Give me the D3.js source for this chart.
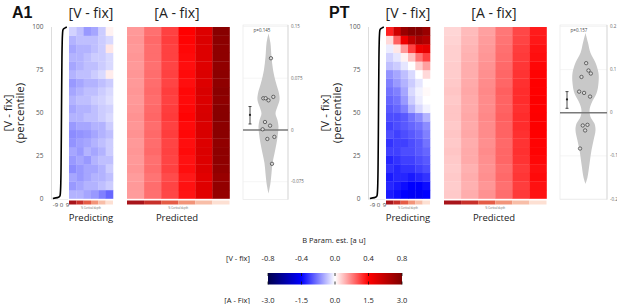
<!DOCTYPE html>
<html lang="en">
<head>
<meta charset="UTF-8"/>
<title>V-fix / A-fix percentile maps</title>
<script src="https://d3js.org/d3.v7.min.js"></script>
<style>
	body{ margin:0; background:#fff; }
	text{ font-family:"Open Sans", "DejaVu Sans", sans-serif; }
</style>
</head>
<body>
<script>
// ---- data ----
var columns = [1, 2, 3, 4, 5, 6];            // cortical depth bins
var percentileTicks = [0, 25, 50, 75, 100];
var curveTicks = [-9, 0, 9];

// percentile -> [V - fix] value (the black CDF curve)
var cdfPercentiles = [0, 0.5, 1, 2, 5, 10, 25, 50, 75, 90, 95, 98, 99, 99.5, 100];
var cdfValues      = [-13, -6, -3.5, -2, -1.4, -1, -0.5, 0, 0.5, 1, 1.4, 2, 3.5, 5.5, 8];

// rows: 5% percentile bins, bottom (0-5%) first
var a1VFix = [
	[-0.12,-0.12,-0.14,-0.16,-0.20,-0.24],
	[-0.16,-0.14,-0.12,-0.12,-0.10,-0.08],
	[-0.14,-0.16,-0.14,-0.12,-0.12,-0.10],
	[-0.18,-0.16,-0.14,-0.14,-0.12,-0.08],
	[-0.16,-0.14,-0.16,-0.12,-0.10,-0.10],
	[-0.14,-0.16,-0.12,-0.14,-0.12,-0.08],
	[-0.17,-0.15,-0.14,-0.12,-0.10,-0.08],
	[-0.18,-0.17,-0.16,-0.14,-0.12,-0.10],
	[-0.16,-0.14,-0.14,-0.12,-0.12,-0.08],
	[-0.12,-0.12,-0.10,-0.10,-0.08,-0.06],
	[-0.14,-0.12,-0.12,-0.10,-0.08,-0.07],
	[-0.12,-0.10,-0.10,-0.08,-0.07,-0.05],
	[-0.14,-0.12,-0.10,-0.10,-0.08,-0.06],
	[-0.16,-0.14,-0.12,-0.12,-0.10,-0.08],
	[-0.12,-0.10,-0.10,-0.08,-0.06, 0.03],
	[-0.14,-0.12,-0.10,-0.10,-0.08,-0.06],
	[-0.12,-0.12,-0.10,-0.08,-0.08,-0.06],
	[-0.14,-0.12,-0.12,-0.10,-0.08, 0.04],
	[-0.12,-0.10,-0.10,-0.10,-0.08,-0.06],
	[-0.07,-0.10,-0.16,-0.14,-0.08, 0.02]
];
var a1AFix = [
	[0.58,0.84,1.08,1.38,1.85,2.75],
	[0.60,0.86,1.10,1.40,1.88,2.78],
	[0.58,0.82,1.06,1.36,1.84,2.72],
	[0.62,0.86,1.12,1.42,1.90,2.80],
	[0.60,0.84,1.10,1.40,1.90,2.82],
	[0.62,0.88,1.12,1.44,1.92,2.84],
	[0.60,0.86,1.10,1.42,1.90,2.80],
	[0.64,0.88,1.14,1.46,1.96,2.88],
	[0.62,0.86,1.12,1.44,1.94,2.86],
	[0.64,0.90,1.16,1.48,1.98,2.92],
	[0.62,0.88,1.14,1.46,1.96,2.90],
	[0.60,0.86,1.12,1.44,1.92,2.84],
	[0.62,0.88,1.14,1.46,1.96,2.88],
	[0.60,0.86,1.10,1.42,1.90,2.82],
	[0.62,0.86,1.12,1.44,1.92,2.86],
	[0.60,0.84,1.10,1.42,1.88,2.80],
	[0.62,0.86,1.12,1.44,1.90,2.84],
	[0.60,0.86,1.12,1.46,1.90,2.84],
	[0.62,0.88,1.14,1.48,1.92,2.86],
	[0.60,0.84,1.12,1.50,1.90,2.90]
];
var ptVFix = [
	[-0.36,-0.38,-0.40,-0.42,-0.42,-0.40],
	[-0.34,-0.36,-0.38,-0.40,-0.40,-0.38],
	[-0.36,-0.34,-0.34,-0.36,-0.34,-0.32],
	[-0.32,-0.34,-0.32,-0.32,-0.30,-0.28],
	[-0.34,-0.32,-0.30,-0.30,-0.28,-0.26],
	[-0.30,-0.30,-0.28,-0.28,-0.26,-0.24],
	[-0.32,-0.30,-0.30,-0.28,-0.26,-0.22],
	[-0.28,-0.30,-0.28,-0.26,-0.24,-0.20],
	[-0.30,-0.28,-0.26,-0.24,-0.22,-0.18],
	[-0.28,-0.28,-0.26,-0.22,-0.18,-0.12],
	[-0.26,-0.24,-0.20,-0.12,-0.06,-0.02],
	[-0.24,-0.22,-0.16,-0.08,-0.03, 0.00],
	[-0.22,-0.20,-0.14,-0.06,-0.02, 0.01],
	[-0.20,-0.16,-0.12,-0.08,-0.04, 0.00],
	[-0.17,-0.14,-0.10,-0.06, 0.00, 0.06],
	[-0.10,-0.08,-0.04, 0.00, 0.08, 0.15],
	[-0.07,-0.04, 0.02, 0.10, 0.22, 0.30],
	[-0.03, 0.04, 0.16, 0.30, 0.45, 0.48],
	[ 0.06, 0.25, 0.45, 0.60, 0.68, 0.64],
	[ 0.35, 0.55, 0.72, 0.78, 0.78, 0.72]
];
var ptAFix = [
	[0.32,0.48,0.64,0.86,1.16,1.40],
	[0.30,0.46,0.62,0.84,1.14,1.40],
	[0.32,0.48,0.66,0.88,1.18,1.44],
	[0.30,0.46,0.64,0.86,1.16,1.42],
	[0.32,0.50,0.66,0.90,1.20,1.46],
	[0.34,0.50,0.68,0.90,1.22,1.48],
	[0.32,0.48,0.66,0.88,1.20,1.48],
	[0.34,0.52,0.68,0.92,1.22,1.50],
	[0.32,0.50,0.68,0.92,1.24,1.52],
	[0.34,0.52,0.70,0.94,1.24,1.52],
	[0.34,0.50,0.68,0.92,1.22,1.50],
	[0.32,0.50,0.68,0.92,1.24,1.52],
	[0.34,0.52,0.70,0.94,1.24,1.50],
	[0.32,0.50,0.68,0.90,1.22,1.50],
	[0.30,0.48,0.66,0.90,1.20,1.48],
	[0.30,0.48,0.64,0.88,1.18,1.46],
	[0.28,0.46,0.62,0.86,1.16,1.42],
	[0.28,0.44,0.60,0.84,1.14,1.40],
	[0.26,0.42,0.58,0.82,1.10,1.36],
	[0.24,0.40,0.56,0.80,1.08,1.34]
];

// violin outlines: [value, relative half-width]
var a1Violin = [[0.140,0],[0.126,0.15],[0.106,0.23],[0.087,0.35],[0.068,0.58],[0.053,0.81],[0.044,0.85],
	[0.034,0.69],[0.024,0.54],[0.0145,0.69],[0.005,0.77],[-0.005,0.73],[-0.019,0.62],[-0.034,0.46],
	[-0.048,0.31],[-0.063,0.23],[-0.077,0.15],[-0.092,0]];
var ptViolin = [[0.185,0],[0.163,0.19],[0.139,0.38],[0.116,0.77],[0.092,1.0],[0.069,1.0],[0.045,0.85],
	[0.022,0.46],[0.006,0.31],[-0.009,0.38],[-0.025,0.69],[-0.040,0.77],[-0.064,0.62],[-0.087,0.46],
	[-0.118,0.31],[-0.150,0.15],[-0.165,0]];

// subject points (value) and their horizontal jitter (relative)
var a1Points = [0.104,0.046,0.046,0.043,0.048,0.0116,0.0063,0.001,-0.013,-0.010,-0.049];
var a1Jitter = [0.19,-0.40,-0.22,0,0.37,-0.27,0.12,-0.45,-0.09,0.45,0.27];
var ptPoints = [0.115,0.098,0.091,0.083,0.049,0.046,0.0375,-0.0295,-0.028,-0.041,-0.083];
var ptJitter = [0.05,0.23,0.41,-0.31,-0.49,-0.11,0.35,-0.21,0.15,-0.03,-0.42];

// mean, lower, upper
var a1Mean = [0.0218, 0.0087, 0.034];
var ptMean = [0.031, 0.0103, 0.049];

var a1Ticks = [0.15, 0.075, 0, -0.075];
var a1TickLabels = ["0.15", "0.075", "0", "-0.075"];
var ptTicks = [0.2, 0.1, 0, -0.1, -0.2];
var ptTickLabels = ["0.2", "0.1", "0", "-0.1", "-0.2"];

var vFixTicks = [-0.8, -0.4, 0, 0.4, 0.8];
var vFixTickLabels = ["-0.8", "-0.4", "0.0", "0.4", "0.8"];
var aFixTickLabels = ["-3.0", "-1.5", "0.0", "1.5", "3.0"];

// ---- styles ----
var depthColors = ["#a8141a", "#c8302a", "#e55c46", "#f29479", "#f8bea8", "#fde0d3"];
var seismic = ["rgb(0,0,77)", "rgb(0,0,255)", "#ffffff", "rgb(255,0,0)", "rgb(128,0,0)"];

var W = 617, H = 304;
var svg = d3.select("body").append("svg").attr("width", W).attr("height", H);

var top0 = 27, bot0 = 198.5;
var pct = d3.scaleLinear().domain([0, 100]).range([bot0, top0]);

function colorFor(maxV){
	return d3.scaleLinear().domain([-maxV, -maxV/2, 0, maxV/2, maxV]).range(seismic).clamp(true);
}

function heatmap(g, x0, x1, rows, maxV){
	var color = colorFor(maxV);
	var x = d3.scaleBand().domain(columns).range([x0, x1]);
	var y = d3.scaleBand().domain(d3.range(rows.length)).range([bot0, top0]);
	rows.forEach(function(row, i){
		g.selectAll(null).data(row).enter().append("rect")
			.attr("x", function(d, j){ return x(columns[j]); })
			.attr("y", y(i))
			.attr("width", x.bandwidth() + 0.3)
			.attr("height", y.bandwidth() + 0.3)
			.attr("fill", function(d){ return color(d); });
	});
	// cortical depth strip
	g.selectAll(null).data(columns).enter().append("rect")
		.attr("x", function(d){ return x(d); })
		.attr("y", 200.5)
		.attr("width", x.bandwidth())
		.attr("height", 4)
		.attr("fill", function(d, i){ return depthColors[i]; });
	g.append("text").attr("x", (x0 + x1) / 2).attr("y", 208.5)
		.attr("text-anchor", "middle").attr("font-size", 2.6).attr("fill", "#666")
		.text("% Cortical depth");
}

function violin(g, left, right, yDom, ticks, tickLabels, outline, pts, jit, mean, pLabel){
	var y = d3.scaleLinear().domain(yDom).range([bot0 + 0.5, top0 - 0.5]);
	var cx = left + 25.5;
	var w = d3.scaleLinear().domain([0, 1]).range([0, 13]);

	g.append("rect").attr("x", left).attr("y", top0 - 2).attr("width", right - left)
		.attr("height", bot0 - top0 + 3).attr("fill", "none").attr("stroke", "#e4e4e4").attr("stroke-width", 0.6);
	g.selectAll(null).data(ticks).enter().append("line")
		.attr("x1", left).attr("x2", right)
		.attr("y1", function(d){ return y(d); }).attr("y2", function(d){ return y(d); })
		.attr("stroke", "#efefef").attr("stroke-width", 0.6);
	g.append("line").attr("x1", right).attr("x2", right).attr("y1", top0 - 2).attr("y2", bot0 + 1)
		.attr("stroke", "#cfcfcf").attr("stroke-width", 0.7);
	g.selectAll(null).data(ticks).enter().append("text")
		.attr("x", right + 3).attr("y", function(d){ return y(d) + 1.5; })
		.attr("font-size", 4.5).attr("fill", "#666")
		.text(function(d, i){ return tickLabels[i]; });

	var area = d3.area()
		.y(function(d){ return y(d[0]); })
		.x0(function(d){ return cx - w(d[1]); })
		.x1(function(d){ return cx + w(d[1]); })
		.curve(d3.curveCatmullRom);
	g.append("path").datum(outline).attr("d", area).attr("fill", "#c8c8c8");

	g.append("line").attr("x1", left).attr("x2", right).attr("y1", y(0)).attr("y2", y(0))
		.attr("stroke", "#7a7a7a").attr("stroke-width", 1.4);

	g.selectAll(null).data(pts).enter().append("circle")
		.attr("cx", function(d, i){ return cx + w(jit[i]); })
		.attr("cy", function(d){ return y(d); })
		.attr("r", 1.7)
		.attr("fill", "#d8d8d8").attr("stroke", "#222").attr("stroke-width", 0.6);

	var ex = left + 7;
	g.append("line").attr("x1", ex).attr("x2", ex).attr("y1", y(mean[1])).attr("y2", y(mean[2]))
		.attr("stroke", "#222").attr("stroke-width", 0.8);
	[mean[1], mean[2]].forEach(function(v){
		g.append("line").attr("x1", ex - 1.5).attr("x2", ex + 1.5).attr("y1", y(v)).attr("y2", y(v))
			.attr("stroke", "#222").attr("stroke-width", 0.8);
	});
	g.append("circle").attr("cx", ex).attr("cy", y(mean[0])).attr("r", 1.1).attr("fill", "#222");

	g.append("text").attr("x", left + 19).attr("y", 31.5).attr("text-anchor", "middle")
		.attr("font-size", 4.5).attr("fill", "#444").text(pLabel);
}

function panel(dx, name, vRows, aRows, vio){
	var g = svg.append("g").attr("transform", "translate(" + dx + ",0)");

	g.append("text").attr("x", 12).attr("y", 18).attr("font-size", 16).attr("font-weight", "bold")
		.style("font-family", "'Liberation Sans', Arial, sans-serif").attr("fill", "#111").text(name);

	// y label
	g.append("text").attr("text-anchor", "middle").attr("font-size", 11.5).attr("fill", "#222")
		.attr("transform", "translate(12,113) rotate(-90)").text("[V - fix]");
	g.append("text").attr("text-anchor", "middle").attr("font-size", 11.5).attr("fill", "#222")
		.attr("transform", "translate(24,113) rotate(-90)").text("(percentile)");

	// percentile ticks
	g.selectAll(null).data(percentileTicks).enter().append("text")
		.attr("x", 43.5).attr("y", function(d){ return pct(d) + 2.3; })
		.attr("text-anchor", "end").attr("font-size", 6.5).attr("fill", "#555")
		.text(function(d){ return d; });

	// CDF curve panel
	var cx = d3.scaleLinear().domain([-9, 9]).range([55.5, 67.5]);
	g.append("line").attr("x1", 51.5).attr("x2", 51.5).attr("y1", top0).attr("y2", bot0 + 1)
		.attr("stroke", "#cfcfcf").attr("stroke-width", 0.7);
	g.append("line").attr("x1", 51.5).attr("x2", 68).attr("y1", bot0 + 1).attr("y2", bot0 + 1)
		.attr("stroke", "#e0e0e0").attr("stroke-width", 0.6);
	var line = d3.line()
		.x(function(d){ return cx(d[1]); })
		.y(function(d){ return pct(d[0]); })
		.curve(d3.curveMonotoneY);
	g.append("path").datum(d3.zip(cdfPercentiles, cdfValues)).attr("d", line)
		.attr("fill", "none").attr("stroke", "#000").attr("stroke-width", 1.6);
	g.selectAll(null).data(curveTicks).enter().append("text")
		.attr("x", function(d){ return cx(d); }).attr("y", 206.5)
		.attr("text-anchor", "middle").attr("font-size", 6).attr("fill", "#444")
		.text(function(d){ return d; });

	// heatmaps
	heatmap(g, 69, 113, vRows, 0.8);
	heatmap(g, 127, 229.5, aRows, 3);

	g.append("text").attr("x", 91).attr("y", 18).attr("text-anchor", "middle").attr("font-size", 14)
		.attr("fill", "#222").text("[V - fix]");
	g.append("text").attr("x", 177).attr("y", 18).attr("text-anchor", "middle").attr("font-size", 14)
		.attr("fill", "#222").text("[A - fix]");
	g.append("text").attr("x", 91).attr("y", 221).attr("text-anchor", "middle").attr("font-size", 9.5)
		.attr("fill", "#222").text("Predicting");
	g.append("text").attr("x", 177).attr("y", 221).attr("text-anchor", "middle").attr("font-size", 9.5)
		.attr("fill", "#222").text("Predicted");

	violin(g, 243, vio.right, vio.dom, vio.ticks, vio.labels, vio.outline, vio.pts, vio.jit, vio.mean, vio.p);
}

panel(0, "A1", a1VFix, a1AFix, {right: 288, dom: [-0.1, 0.15], ticks: a1Ticks, labels: a1TickLabels,
	outline: a1Violin, pts: a1Points, jit: a1Jitter, mean: a1Mean, p: "p=0.145"});
panel(317, "PT", ptVFix, ptAFix, {right: 290, dom: [-0.2, 0.2], ticks: ptTicks, labels: ptTickLabels,
	outline: ptViolin, pts: ptPoints, jit: ptJitter, mean: ptMean, p: "p=0.157"});

// ---- colour bar ----
var cb = svg.append("g");
var cbX = d3.scaleLinear().domain([-0.8, 0.8]).range([268, 402]);
var grad = svg.append("defs").append("linearGradient").attr("id", "seis");
seismic.forEach(function(c, i){
	grad.append("stop").attr("offset", (i * 25) + "%").attr("stop-color", c);
});
cb.append("rect").attr("x", 268).attr("y", 273).attr("width", 134).attr("height", 11.5).attr("fill", "url(#seis)");
cb.selectAll(null).data(vFixTicks).enter().append("line")
	.attr("x1", function(d){ return cbX(d); }).attr("x2", function(d){ return cbX(d); })
	.attr("y1", 273).attr("y2", 276).attr("stroke", "#111").attr("stroke-width", 0.8);
cb.selectAll(null).data(vFixTicks).enter().append("line")
	.attr("x1", function(d){ return cbX(d); }).attr("x2", function(d){ return cbX(d); })
	.attr("y1", 281.5).attr("y2", 284.5).attr("stroke", "#111").attr("stroke-width", 0.8);
cb.selectAll(null).data(vFixTicks).enter().append("text")
	.attr("x", function(d){ return cbX(d); }).attr("y", 261)
	.attr("text-anchor", "middle").attr("font-size", 7.5).attr("fill", "#222")
	.text(function(d, i){ return vFixTickLabels[i]; });
cb.selectAll(null).data(vFixTicks).enter().append("text")
	.attr("x", function(d){ return cbX(d); }).attr("y", 303)
	.attr("text-anchor", "middle").attr("font-size", 7.5).attr("fill", "#222")
	.text(function(d, i){ return aFixTickLabels[i]; });
cb.append("text").attr("x", 250).attr("y", 261).attr("text-anchor", "end").attr("font-size", 7.5)
	.attr("fill", "#222").text("[V - fix]");
cb.append("text").attr("x", 250).attr("y", 303).attr("text-anchor", "end").attr("font-size", 7.5)
	.attr("fill", "#222").text("[A - Fix]");
cb.append("text").attr("x", 334).attr("y", 243).attr("text-anchor", "middle").attr("font-size", 7.5)
	.attr("fill", "#222").text("B Param. est. [a u]");
</script>
</body>
</html>
